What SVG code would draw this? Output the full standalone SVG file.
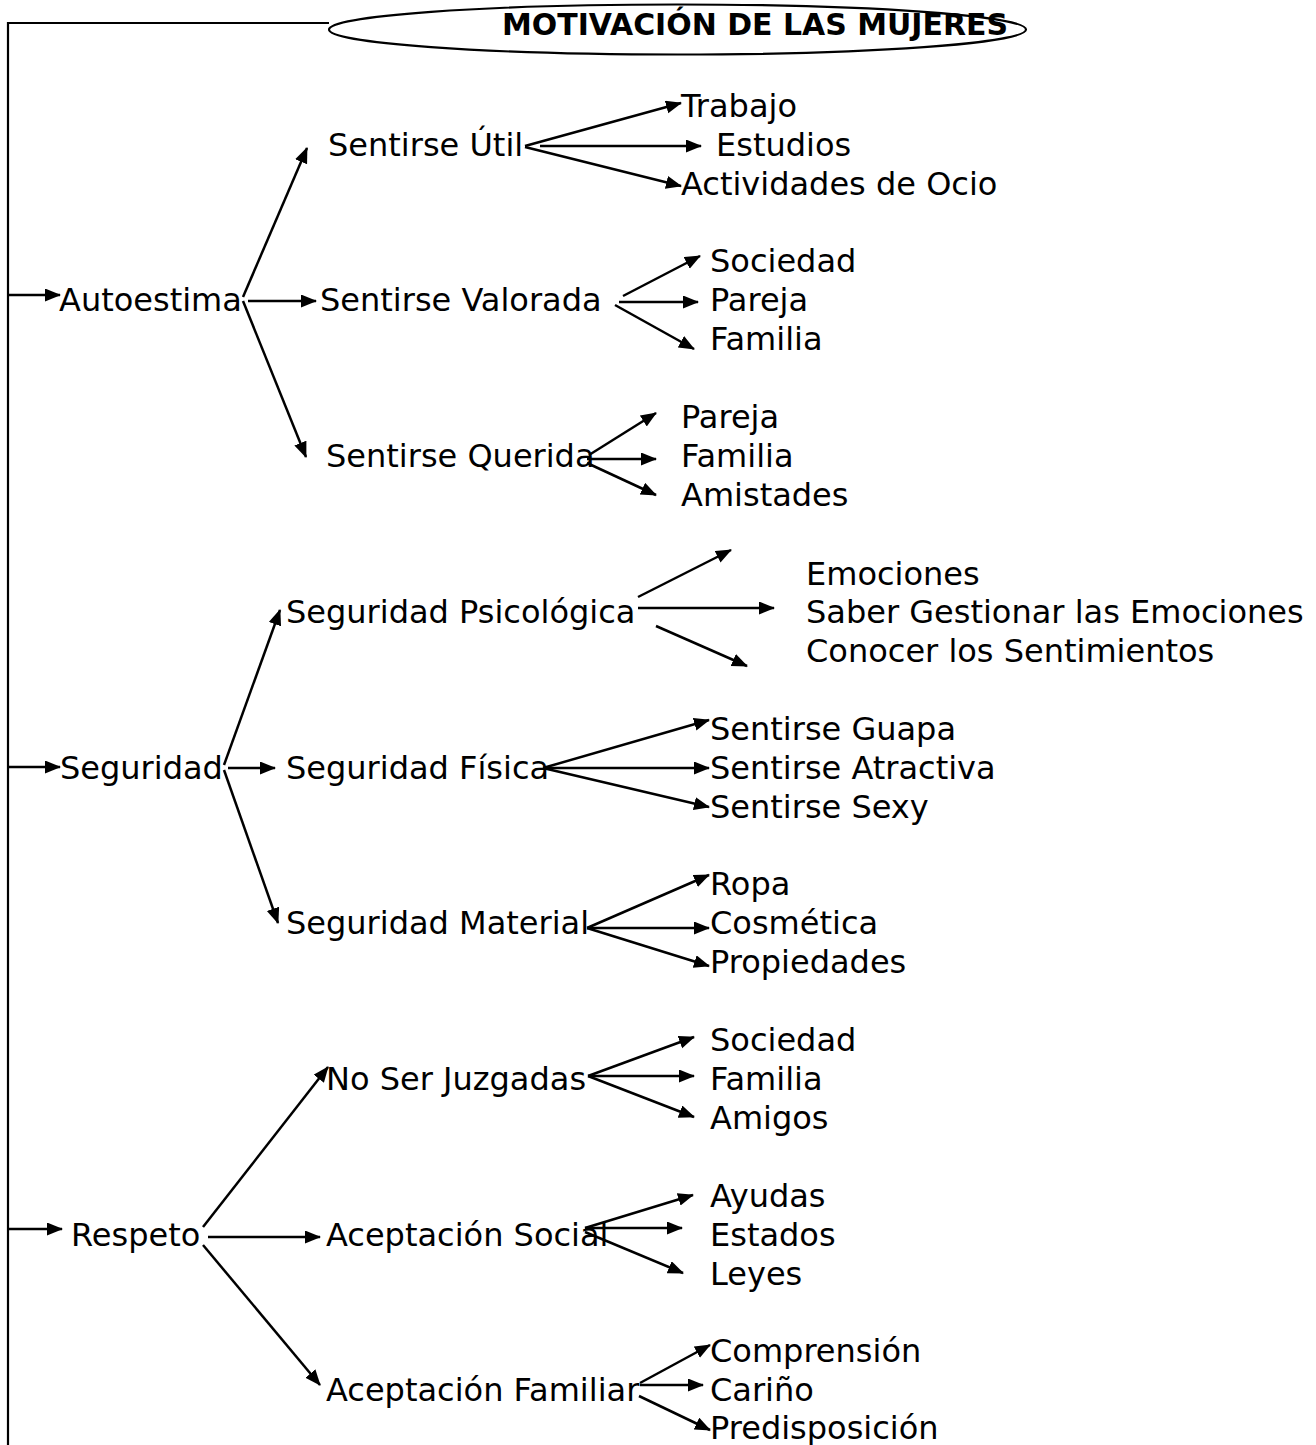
<svg xmlns="http://www.w3.org/2000/svg" width="1316" height="1445" viewBox="0 0 1316 1445">
<style>
  text { font-family: "DejaVu Sans", Verdana, "Liberation Sans", sans-serif; font-size: 32px; fill: #000; }
  .title { font-weight: bold; font-size: 29.5px; }
  .c line { stroke: #000; stroke-width: 2.5; marker-end: url(#ah); }
  .trunk { fill: none; stroke: #000; stroke-width: 2.2; }
  .oval { fill: none; stroke: #000; stroke-width: 2.2; }
</style>
<defs>
  <marker id="ah" markerUnits="userSpaceOnUse" markerWidth="17" markerHeight="14" refX="15" refY="6.5" orient="auto">
    <path d="M0,0 L16,6.5 L0,13 z" fill="#000"/>
  </marker>
</defs>
<rect width="1316" height="1445" fill="#fff"/>

<g id="title">
  <ellipse class="oval" cx="677.5" cy="29.5" rx="348.5" ry="25"/>
  <text class="title" x="502" y="34.5" textLength="506" lengthAdjust="spacingAndGlyphs">MOTIVACIÓN DE LAS MUJERES</text>
</g>

<g id="connectors">
  <path class="trunk" d="M329,23 H8 V1445"/>
  <g class="c">
    <line x1="8" y1="295" x2="60" y2="295"/>
    <line x1="8" y1="767" x2="60" y2="767"/>
    <line x1="8" y1="1229" x2="62" y2="1229"/>

    <line x1="243" y1="297" x2="307" y2="148"/>
    <line x1="248" y1="301" x2="316" y2="301"/>
    <line x1="243" y1="301" x2="306" y2="457"/>

    <line x1="525" y1="146" x2="681" y2="103"/>
    <line x1="540" y1="146" x2="701" y2="146"/>
    <line x1="525" y1="147" x2="681" y2="186"/>

    <line x1="623" y1="296" x2="700" y2="256"/>
    <line x1="619" y1="302" x2="698" y2="302"/>
    <line x1="615" y1="305" x2="694" y2="349"/>

    <line x1="589" y1="455" x2="656" y2="413"/>
    <line x1="587" y1="459" x2="656" y2="459"/>
    <line x1="587" y1="463" x2="656" y2="495"/>

    <line x1="224" y1="765" x2="280" y2="610"/>
    <line x1="228" y1="768" x2="275" y2="768"/>
    <line x1="224" y1="770" x2="278" y2="923"/>

    <line x1="638" y1="597" x2="731" y2="550"/>
    <line x1="638" y1="608" x2="774" y2="608"/>
    <line x1="656" y1="626" x2="747" y2="666"/>

    <line x1="543" y1="768" x2="709" y2="720"/>
    <line x1="543" y1="768" x2="709" y2="768"/>
    <line x1="543" y1="768" x2="709" y2="807"/>

    <line x1="587" y1="928" x2="709" y2="875"/>
    <line x1="587" y1="928" x2="709" y2="928"/>
    <line x1="587" y1="928" x2="709" y2="966"/>

    <line x1="203" y1="1227" x2="328" y2="1067"/>
    <line x1="208" y1="1237" x2="320" y2="1237"/>
    <line x1="203" y1="1245" x2="320" y2="1385"/>

    <line x1="588" y1="1076" x2="694" y2="1037"/>
    <line x1="588" y1="1076" x2="694" y2="1076"/>
    <line x1="588" y1="1076" x2="694" y2="1117"/>

    <line x1="585" y1="1228" x2="693" y2="1195"/>
    <line x1="585" y1="1228" x2="682" y2="1228"/>
    <line x1="585" y1="1232" x2="683" y2="1273"/>

    <line x1="640" y1="1383" x2="710" y2="1345"/>
    <line x1="640" y1="1385" x2="703" y2="1385"/>
    <line x1="639" y1="1396" x2="710" y2="1430"/>
  </g>
</g>

<g id="autoestima"><text x="59" y="311">Autoestima</text></g>
<g id="sentirse-util"><text x="328" y="156">Sentirse Útil</text></g>
<g id="trabajo"><text x="681" y="117">Trabajo</text></g>
<g id="estudios"><text x="716" y="156">Estudios</text></g>
<g id="actividades"><text x="681" y="195">Actividades de Ocio</text></g>
<g id="sentirse-valorada"><text x="320" y="311">Sentirse Valorada</text></g>
<g id="valorada-sociedad"><text x="710" y="272">Sociedad</text></g>
<g id="valorada-pareja"><text x="710" y="311">Pareja</text></g>
<g id="valorada-familia"><text x="710" y="350">Familia</text></g>
<g id="sentirse-querida"><text x="326" y="467">Sentirse Querida</text></g>
<g id="querida-pareja"><text x="681" y="428">Pareja</text></g>
<g id="querida-familia"><text x="681" y="467">Familia</text></g>
<g id="querida-amistades"><text x="681" y="506">Amistades</text></g>

<g id="seguridad"><text x="60" y="779">Seguridad</text></g>
<g id="seguridad-psicologica"><text x="286" y="623">Seguridad Psicológica</text></g>
<g id="emociones"><text x="806" y="585">Emociones</text></g>
<g id="saber-gestionar"><text x="806" y="623">Saber Gestionar las Emociones</text></g>
<g id="conocer"><text x="806" y="662">Conocer los Sentimientos</text></g>
<g id="seguridad-fisica"><text x="286" y="779">Seguridad Física</text></g>
<g id="guapa"><text x="710" y="740">Sentirse Guapa</text></g>
<g id="atractiva"><text x="710" y="779">Sentirse Atractiva</text></g>
<g id="sexy"><text x="710" y="818">Sentirse Sexy</text></g>
<g id="seguridad-material"><text x="286" y="934">Seguridad Material</text></g>
<g id="ropa"><text x="710" y="895">Ropa</text></g>
<g id="cosmetica"><text x="710" y="934">Cosmética</text></g>
<g id="propiedades"><text x="710" y="973">Propiedades</text></g>

<g id="respeto"><text x="71" y="1246">Respeto</text></g>
<g id="no-ser-juzgadas"><text x="326" y="1090">No Ser Juzgadas</text></g>
<g id="juzgadas-sociedad"><text x="710" y="1051">Sociedad</text></g>
<g id="juzgadas-familia"><text x="710" y="1090">Familia</text></g>
<g id="juzgadas-amigos"><text x="710" y="1129">Amigos</text></g>
<g id="aceptacion-social"><text x="326" y="1246">Aceptación Social</text></g>
<g id="ayudas"><text x="710" y="1207">Ayudas</text></g>
<g id="estados"><text x="710" y="1246">Estados</text></g>
<g id="leyes"><text x="710" y="1285">Leyes</text></g>
<g id="aceptacion-familiar"><text x="326" y="1401">Aceptación Familiar</text></g>
<g id="comprension"><text x="710" y="1362">Comprensión</text></g>
<g id="carino"><text x="710" y="1401">Cariño</text></g>
<g id="predisposicion"><text x="710" y="1439">Predisposición</text></g>
</svg>
